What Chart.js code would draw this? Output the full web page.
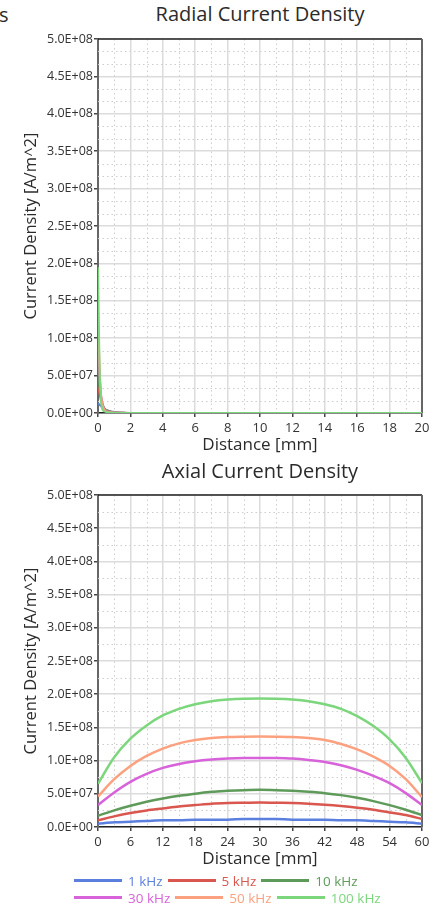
<!DOCTYPE html>
<html>
<head>
<meta charset="utf-8">
<script src="https://cdn.jsdelivr.net/npm/chart.js@4.4.0/dist/chart.umd.min.js"></script>
<style>
  html, body { margin: 0; padding: 0; background: #fff; }
  body { width: 436px; height: 906px; position: relative; overflow: hidden; font-family: 'Open Sans', sans-serif; color: #333; }
  canvas { position: absolute; left: 0; }
  .ttl { position: absolute; font-size: 20px; line-height: 24px; white-space: nowrap; transform: translateX(-50%); color: #2b2b2b; }
  .cut { position: absolute; left: -1px; top: 3px; font-size: 20px; line-height: 24px; color: #2b2b2b; }
  .legend { position: absolute; left: 74px; font-size: 13.5px; }
  .row { display: flex; align-items: center; height: 17px; white-space: nowrap; }
  .item { display: flex; align-items: center; margin-right: 5px; }
  .swatch { width: 48px; height: 3px; margin-right: 6px; }
</style>
</head>
<body>
<div class="cut">s</div>
<div class="ttl" style="left:260px; top:2px;">Radial Current Density</div>
<canvas id="radialChart" width="436" height="460" style="top:0px;"></canvas>
<div class="ttl" style="left:260px; top:459px;">Axial Current Density</div>
<canvas id="axialChart" width="436" height="414" style="top:460px;"></canvas>
<div class="legend" id="legend" style="top:872px;"></div>

<script>
// --- Datos (valores en unidades de 1E+08 A/m^2) ---
const UNIT = 1e8;
const freqLabels = ['1 kHz', '5 kHz', '10 kHz', '30 kHz', '50 kHz', '100 kHz'];
const freqColors = ['#5b7fde', '#d9574f', '#5e9a5a', '#d762d9', '#fca17f', '#7cd67c'];

// radial: distancia [mm]
const radialX = [0, 0.05, 0.1, 0.15, 0.2, 0.3, 0.4, 0.6, 0.8, 1.0, 1.3, 1.6, 2, 5, 10, 15, 20];
const radial1k   = [0.13, 0.12, 0.11, 0.10, 0.09, 0.07, 0.05, 0.03, 0.02, 0.015, 0.008, 0.003, 0, 0, 0, 0, 0];
const radial5k   = [0.35, 0.30, 0.25, 0.20, 0.16, 0.10, 0.06, 0.03, 0.018, 0.01, 0.005, 0.002, 0, 0, 0, 0, 0];
const radial10k  = [0.57, 0.45, 0.34, 0.26, 0.20, 0.11, 0.06, 0.03, 0.015, 0.008, 0.004, 0.002, 0, 0, 0, 0, 0];
const radial30k  = [1.02, 0.75, 0.50, 0.34, 0.22, 0.10, 0.05, 0.02, 0.01, 0.005, 0.002, 0.001, 0, 0, 0, 0, 0];
const radial50k  = [1.35, 0.95, 0.60, 0.38, 0.22, 0.09, 0.04, 0.015, 0.008, 0.004, 0.002, 0.001, 0, 0, 0, 0, 0];
const radial100k = [1.95, 1.20, 0.60, 0.30, 0.12, 0.04, 0.02, 0.01, 0.005, 0.003, 0.001, 0, 0, 0, 0, 0, 0];

// axial: distancia [mm]
const axialX = [0, 3, 6, 9, 12, 15, 18, 21, 24, 27, 30, 33, 36, 39, 42, 45, 48, 51, 54, 57, 60];
const axial1k   = [0.05, 0.07, 0.08, 0.09, 0.10, 0.10, 0.11, 0.11, 0.11, 0.12, 0.12, 0.12, 0.11, 0.11, 0.11, 0.10, 0.10, 0.09, 0.08, 0.07, 0.05];
const axial5k   = [0.10, 0.16, 0.21, 0.25, 0.28, 0.31, 0.33, 0.35, 0.36, 0.365, 0.37, 0.365, 0.36, 0.35, 0.335, 0.315, 0.29, 0.26, 0.22, 0.18, 0.12];
const axial10k  = [0.17, 0.25, 0.32, 0.38, 0.43, 0.47, 0.50, 0.53, 0.545, 0.555, 0.56, 0.555, 0.545, 0.53, 0.51, 0.48, 0.44, 0.39, 0.33, 0.26, 0.18];
const axial30k  = [0.33, 0.52, 0.68, 0.80, 0.89, 0.95, 0.99, 1.015, 1.03, 1.038, 1.04, 1.038, 1.03, 1.01, 0.98, 0.93, 0.86, 0.77, 0.66, 0.51, 0.33];
const axial50k  = [0.46, 0.72, 0.92, 1.07, 1.18, 1.26, 1.31, 1.34, 1.355, 1.36, 1.362, 1.36, 1.355, 1.34, 1.31, 1.25, 1.17, 1.06, 0.92, 0.72, 0.45];
const axial100k = [0.65, 1.05, 1.33, 1.53, 1.68, 1.78, 1.85, 1.895, 1.92, 1.932, 1.935, 1.932, 1.92, 1.895, 1.85, 1.78, 1.67, 1.52, 1.32, 1.04, 0.66];

const radialSeries = [radial1k, radial5k, radial10k, radial30k, radial50k, radial100k];
const axialSeries = [axial1k, axial5k, axial10k, axial30k, axial50k, axial100k];

// --- Formato 5.0E+08 ---
function sci(v) {
    if (Math.abs(v) < 1) return '0.0E+00';
    const e = Math.floor(Math.log10(Math.abs(v)) + 1e-9);
    const m = v / Math.pow(10, e);
    return m.toFixed(1) + 'E+' + String(e).padStart(2, '0');
}

// rejilla menor punteada + marco superior/derecho
const minorGrid = {
    id: 'minorGrid',
    beforeDatasetsDraw(chart, args, opts) {
        const {ctx, chartArea: a, scales: {x, y}} = chart;
        ctx.save();
        ctx.strokeStyle = '#cdcdcd';
        ctx.lineWidth = 1;
        ctx.setLineDash([1.5, 3]);
        const xm = opts.xMajor / opts.xDiv;
        for (let k = 1; k * xm < x.max - 1e-9; k++) {
            if (k % opts.xDiv === 0) continue;
            const px = Math.round(x.getPixelForValue(k * xm)) + 0.5;
            ctx.beginPath(); ctx.moveTo(px, a.top); ctx.lineTo(px, a.bottom); ctx.stroke();
        }
        const ym = opts.yMajor / opts.yDiv;
        for (let k = 1; k * ym < y.max - 1; k++) {
            if (k % opts.yDiv === 0) continue;
            const py = Math.round(y.getPixelForValue(k * ym)) + 0.5;
            ctx.beginPath(); ctx.moveTo(a.left, py); ctx.lineTo(a.right, py); ctx.stroke();
        }
        ctx.setLineDash([]);
        ctx.strokeStyle = '#222';
        ctx.lineWidth = 1.5;
        ctx.beginPath(); ctx.moveTo(a.left, a.top); ctx.lineTo(a.right, a.top); ctx.stroke();
        ctx.strokeStyle = '#666';
        ctx.lineWidth = 2;
        ctx.beginPath(); ctx.moveTo(a.right, a.top); ctx.lineTo(a.right, a.bottom); ctx.stroke();
        ctx.restore();
    }
};

function makeChart(id, xs, series, xMax, xStep, yDiv, lineW, padTop) {
    const datasets = series.map((vals, i) => ({
        label: freqLabels[i],
        data: xs.map((xv, j) => ({x: xv, y: vals[j] * UNIT})),
        borderColor: freqColors[i],
        backgroundColor: freqColors[i],
        borderWidth: lineW,
        pointRadius: 0,
        cubicInterpolationMode: 'monotone',
        fill: false,
        order: series.length - i
    }));
    return new Chart(document.getElementById(id), {
        type: 'line',
        data: {datasets},
        options: {
            responsive: false,
            animation: false,
            layout: {padding: {left: 17, right: 14, top: padTop, bottom: 3}},
            plugins: {
                legend: {display: false},
                tooltip: {enabled: false},
                minorGrid: {xMajor: xStep, xDiv: 2, yMajor: 5e7, yDiv: yDiv}
            },
            scales: {
                x: {
                    type: 'linear', min: 0, max: xMax,
                    afterFit(s) { s.height = 44; },
                    ticks: {stepSize: xStep, padding: 3, color: '#333', font: {family: 'Open Sans', size: 13}, maxRotation: 0},
                    grid: {color: '#dcdcdc', lineWidth: 1.5, tickLength: 4, tickColor: '#444'},
                    border: {color: '#222', width: 1.5},
                    title: {display: true, text: 'Distance [mm]', color: '#2b2b2b', font: {family: 'Open Sans', size: 17}, padding: {top: 4, bottom: 2}}
                },
                y: {
                    min: 0, max: 5e8,
                    afterFit(s) { s.width = 81; },
                    ticks: {stepSize: 5e7, padding: 1, color: '#333', font: {family: 'Open Sans', size: 12.5}, callback: v => sci(v)},
                    grid: {color: '#dcdcdc', lineWidth: 1.5, tickLength: 4, tickColor: '#444'},
                    border: {color: '#666', width: 2},
                    title: {display: true, text: 'Current Density [A/m^2]', color: '#2b2b2b', font: {family: 'Open Sans', size: 16.5}, padding: {top: 4, bottom: 4}}
                }
            }
        },
        plugins: [minorGrid]
    });
}

makeChart('radialChart', radialX, radialSeries, 20, 2, 3, 2, 39);
makeChart('axialChart', axialX, axialSeries, 60, 6, 2, 2.5, 35);

// --- Leyenda (3 por fila) ---
const legendEl = document.getElementById('legend');
[[0, 1, 2], [3, 4, 5]].forEach(rowIdx => {
    const row = document.createElement('div');
    row.className = 'row';
    rowIdx.forEach(i => {
        const item = document.createElement('div');
        item.className = 'item';
        item.innerHTML = '<span class="swatch" style="background:' + freqColors[i] + '"></span>' +
            '<span style="color:' + freqColors[i] + '">' + freqLabels[i] + '</span>';
        row.appendChild(item);
    });
    legendEl.appendChild(row);
});
</script>
</body>
</html>
